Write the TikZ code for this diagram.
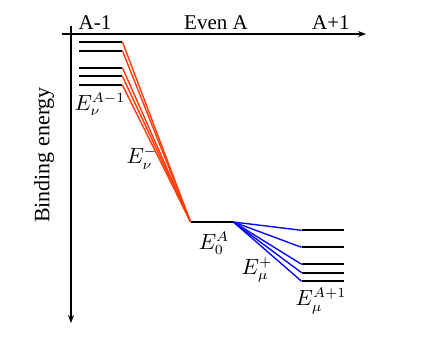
\documentclass[tikz,border=0pt]{standalone}
\usepackage{fontspec}
\setmainfont{Liberation Serif}
\usepackage{tikz}
\usetikzlibrary{arrows.meta,positioning}
\definecolor{decayred}{RGB}{255,60,10}
\definecolor{decayblue}{RGB}{10,10,245}

\begin{document}
\begin{tikzpicture}[
  x=0.5pt, y=-0.5pt,
  level/.style={fill=black, inner sep=0pt, minimum width=21.5pt, minimum height=1pt},
  axis/.style={-{Stealth[length=4pt, width=3pt]}, line width=0.7pt},
  down/.style={decayred, line width=0.7pt},
  up/.style={decayblue, line width=0.7pt},
  label/.style={font=\fontsize{10.5}{12}\selectfont, inner sep=0pt}
]
\useasboundingbox (0,0) rectangle (436,361);

\coordinate (xstart) at (62,34);
\coordinate (xend) at (366,34);
\coordinate (ystart) at (71,26);
\coordinate (yend) at (71,323);
\draw[axis] (xstart) -- (xend);
\draw[axis] (ystart) -- (yend);

\node[label] (am) at (95,23) {A-1};
\node[label] (even) at (216,23) {Even A};
\node[label] (ap) at (331,23) {A+1};
\node[label, font=\fontsize{11}{13}\selectfont, rotate=90] (bind) at (44,155) {Binding energy};

\node[level] (l1) at (100.5,41.7) {};
\node[level] (l2) at (100.5,50.7) {};
\node[level] (l3) at (100.5,67.7) {};
\node[level] (l4) at (100.5,76.3) {};
\node[level] (l5) at (100.5,85) {};

\node[level, minimum width=21pt] (g) at (212,222) {};

\node[level, minimum width=21pt] (r1) at (323,230.3) {};
\node[level, minimum width=21pt] (r2) at (323,247.3) {};
\node[level, minimum width=21pt] (r3) at (323,264.3) {};
\node[level, minimum width=21pt] (r4) at (323,272.7) {};
\node[level, minimum width=21pt] (r5) at (323,281.3) {};

\draw[down] (l1.east) -- (g.west);
\draw[down] (l2.east) -- (g.west);
\draw[down] (l3.east) -- (g.west);
\draw[down] (l4.east) -- (g.west);
\draw[down] (l5.east) -- (g.west);

\draw[up] (g.east) -- (r1.west);
\draw[up] (g.east) -- (r2.west);
\draw[up] (g.east) -- (r3.west);
\draw[up] (g.east) -- (r4.west);
\draw[up] (g.east) -- (r5.west);

\node[label] (eleft) at (100,104) {$E_\nu^{A-1}$};
\node[label] (eminus) at (142,158) {$E_\nu^-$};
\node[label] (ezero) at (214,243) {$E_0^A$};
\node[label] (eplus) at (257,270) {$E_\mu^+$};
\node[label] (eright) at (321,301) {$E_\mu^{A+1}$};

\end{tikzpicture}
\end{document}
